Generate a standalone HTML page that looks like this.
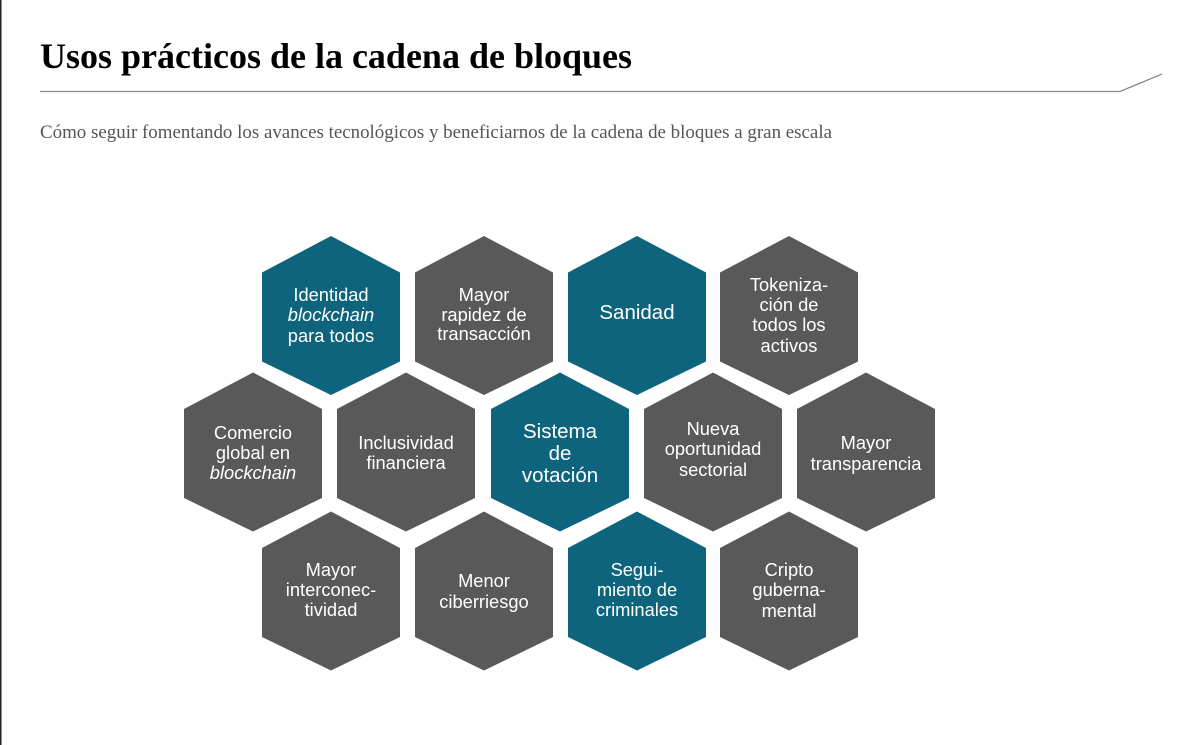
<!DOCTYPE html>
<html><head><meta charset="utf-8">
<style>
html,body{margin:0;padding:0;background:#fff;}
body{width:1200px;height:745px;overflow:hidden;position:relative;}
</style></head>
<body>
<svg width="1200" height="745" viewBox="0 0 1200 745" xmlns="http://www.w3.org/2000/svg" style="position:absolute;left:0;top:0">
<rect x="0" y="0" width="1.5" height="745" fill="#222"/>
<text x="40" y="68" font-family="Liberation Serif, serif" font-weight="bold" font-size="35.5" fill="#000" textLength="592" lengthAdjust="spacingAndGlyphs">Usos prácticos de la cadena de bloques</text>
<polyline points="40,91.5 1120,91.5 1162,74" fill="none" stroke="#8a8a8a" stroke-width="1.3"/>
<text x="40" y="138" font-family="Liberation Serif, serif" font-size="18.5" fill="#555" textLength="792" lengthAdjust="spacingAndGlyphs">Cómo seguir fomentando los avances tecnológicos y beneficiarnos de la cadena de bloques a gran escala</text>
<defs>
<path id="h" d="M0,-79.5 L69,-43 L69,46 L0,79.5 L-69,46 L-69,-43 Z"/>
</defs>
<g font-family="Liberation Sans, Arial, sans-serif" fill="#fff" text-anchor="middle" font-size="18.3">
<use href="#h" x="331" y="315.5" fill="#0f647d"/>
<use href="#h" x="484" y="315.5" fill="#595959"/>
<use href="#h" x="637" y="315.5" fill="#0f647d"/>
<use href="#h" x="789" y="315.5" fill="#595959"/>
<use href="#h" x="253" y="452" fill="#595959"/>
<use href="#h" x="406" y="452" fill="#595959"/>
<use href="#h" x="560" y="452" fill="#0f647d"/>
<use href="#h" x="713" y="452" fill="#595959"/>
<use href="#h" x="866" y="452" fill="#595959"/>
<use href="#h" x="331" y="591" fill="#595959"/>
<use href="#h" x="484" y="591" fill="#595959"/>
<use href="#h" x="637" y="591" fill="#0f647d"/>
<use href="#h" x="789" y="591" fill="#595959"/>

<text x="331" y="301">Identidad</text>
<text x="331" y="321" font-style="italic">blockchain</text>
<text x="331" y="342">para todos</text>

<text x="484" y="301">Mayor</text>
<text x="484" y="321">rapidez de</text>
<text x="484" y="340">transacción</text>

<text x="637" y="319" font-size="20.5">Sanidad</text>

<text x="789" y="291">Tokeniza-</text>
<text x="789" y="311">ción de</text>
<text x="789" y="331">todos los</text>
<text x="789" y="352">activos</text>

<text x="253" y="439">Comercio</text>
<text x="253" y="459">global en</text>
<text x="253" y="479" font-style="italic">blockchain</text>

<text x="406" y="449">Inclusividad</text>
<text x="406" y="469">financiera</text>

<text x="560" y="438" font-size="20.5">Sistema</text>
<text x="560" y="460" font-size="20.5">de</text>
<text x="560" y="482" font-size="20.5">votación</text>

<text x="713" y="435">Nueva</text>
<text x="713" y="455">oportunidad</text>
<text x="713" y="476">sectorial</text>

<text x="866" y="449">Mayor</text>
<text x="866" y="470">transparencia</text>

<text x="331" y="576">Mayor</text>
<text x="331" y="596">interconec-</text>
<text x="331" y="616">tividad</text>

<text x="484" y="587">Menor</text>
<text x="484" y="608">ciberriesgo</text>

<text x="637" y="576">Segui-</text>
<text x="637" y="596">miento de</text>
<text x="637" y="616">criminales</text>

<text x="789" y="576">Cripto</text>
<text x="789" y="596">guberna-</text>
<text x="789" y="617">mental</text>
</g>
</svg>
</body></html>
